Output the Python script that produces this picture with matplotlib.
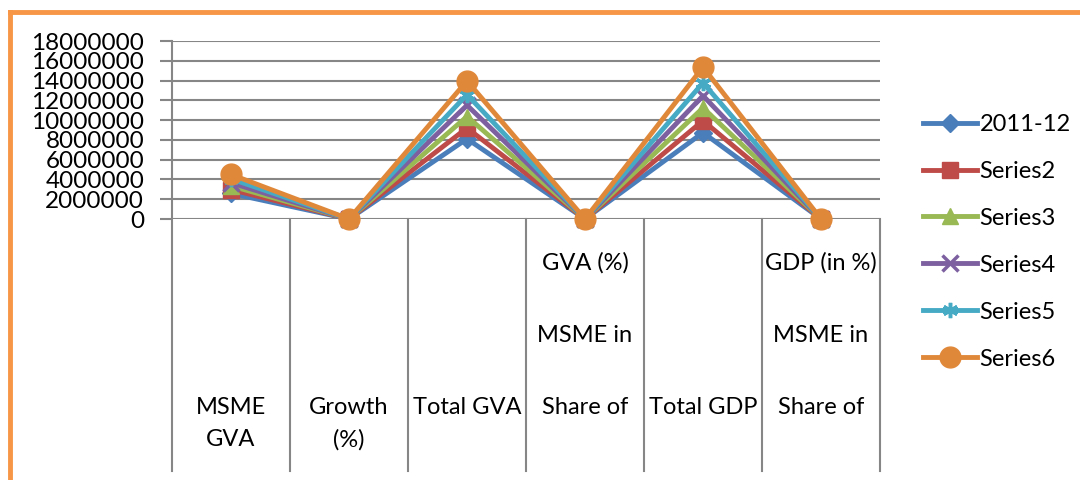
import matplotlib.pyplot as plt
from matplotlib.lines import Line2D

# categories and values (Rs crore)
categories = ['MSME GVA', 'Growth (%)', 'Total GVA', 'Share of MSME in GVA (%)',
              'Total GDP', 'Share of MSME in GDP (in %)']
label_lines = [['MSME', 'GVA'], ['Growth', '(%)'], ['Total GVA'],
               ['Share of', 'MSME in', 'GVA (%)'], ['Total GDP'],
               ['Share of', 'MSME in', 'GDP (in %)']]
series_names = ['2011-12', 'Series2', 'Series3', 'Series4', 'Series5', 'Series6']

s2011 = [2583263, 0, 8106946, 31.86, 8736329, 29.57]
s2 = [2977623, 15.27, 9202692, 32.36, 9944013, 29.94]
s3 = [3343009, 12.27, 10363153, 32.26, 11233522, 29.76]
s4 = [3658196, 9.43, 11504279, 31.80, 12467959, 29.34]
s5 = [4059660, 10.98, 12574499, 32.28, 13771874, 29.48]
s6 = [4502129, 10.90, 13965200, 32.24, 15362386, 29.31]
series = [s2011, s2, s3, s4, s5, s6]

colors = ['#4A7EBB', '#BE4B48', '#98B954', '#7D60A0', '#46AAC5', '#E0883A']
markers = ['D', 's', '^', 'x', (6, 2, 0), 'o']
msizes = [9, 11, 11, 11, 11, 15]

plt.rcParams['font.family'] = ['Lato', 'DejaVu Sans']

fig = plt.figure(figsize=(10.8, 4.8), dpi=100)
ax = fig.add_axes([172 / 1080, 1 - 219 / 480, (880 - 172) / 1080, (219 - 41) / 480])

x = list(range(len(categories)))
handles = []
for name, vals, c, m, ms in zip(series_names, series, colors, markers, msizes):
    ln, = ax.plot(x, vals, color=c, lw=3.5, marker=m, markersize=ms,
                  markeredgewidth=2.5 if m in ('x', (6, 2, 0)) else 1,
                  markeredgecolor=c, markerfacecolor=c, label=name, clip_on=False, zorder=3)
    handles.append(ln)

ax.set_xlim(-0.5, len(categories) - 0.5)
ax.set_ylim(0, 18000000)
ax.set_yticks(range(0, 18000001, 2000000))
ax.set_yticklabels([str(v) for v in range(0, 18000001, 2000000)], fontsize=17.5)
ax.tick_params(axis='y', length=9, width=1.5, color='#868686', pad=11)
ax.grid(axis='y', color='#868686', lw=1.5, zorder=0)
ax.set_xticks([])
for side in ['top', 'right', 'bottom', 'left']:
    ax.spines[side].set_visible(False)

# category separators running down through the label area
trans = ax.get_xaxis_transform()
bottom = -(471 - 219) / (219 - 41)
for i in range(len(categories) + 1):
    ax.plot([i - 0.5, i - 0.5], [1.0 if i == 0 else 0, bottom], color='#868686',
            lw=1.5, transform=trans, clip_on=False, zorder=1)

# category labels (as laid out in the original)
px = 1 / (219 - 41)
for i, lines in enumerate(label_lines):
    if len(lines) == 3:
        ys = [407, 335, 263]
    else:
        ys = [407 + 33 * k for k in range(len(lines))]
    for t, yy in zip(lines, ys):
        ax.text(i, -(yy - 219) * px, t, transform=trans, ha='center', va='center',
                fontsize=17)

leg = fig.legend(handles=handles, loc='upper left', bbox_to_anchor=(911 / 1080, 1 - 102 / 480),
                 frameon=False, fontsize=17, handlelength=2.3, labelspacing=1.1,
                 handletextpad=0.1, borderpad=0)

# orange frame
fig.add_artist(Line2D([10 / 1080, 10 / 1080], [0, 1 - 12 / 480], color='#F79646', lw=3.5))
fig.add_artist(Line2D([10 / 1080, 1], [1 - 12 / 480, 1 - 12 / 480], color='#F79646', lw=3.5))

fig.savefig('out.png', dpi=100)
